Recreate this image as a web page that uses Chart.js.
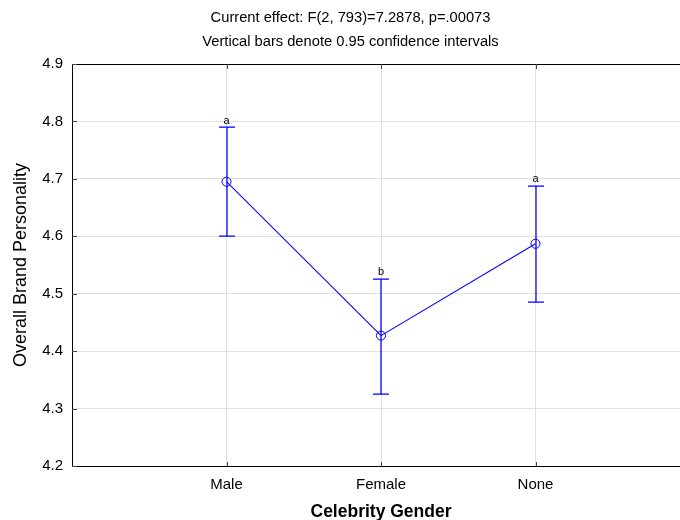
<!DOCTYPE html>
<html>
<head>
<meta charset="utf-8">
<script src="https://cdn.jsdelivr.net/npm/chart.js@4/dist/chart.umd.min.js"></script>
<style>
  html, body { margin: 0; padding: 0; background: #fff; overflow: hidden; }
  #wrap { width: 700px; height: 520px; position: relative; }
</style>
</head>
<body>
<div id="wrap"><canvas id="c"></canvas></div>
<script>
const titleLines = ['Current effect: F(2, 793)=7.2878, p=.00073', 'Vertical bars denote 0.95 confidence intervals'];
const categories = ['Male', 'Female', 'None'];
const means = [4.695, 4.427, 4.587];
const lower = [4.600, 4.326, 4.485];
const upper = [4.790, 4.526, 4.688];
const letters = ['a', 'b', 'a'];
const yTicks = [4.2, 4.3, 4.4, 4.5, 4.6, 4.7, 4.8, 4.9];
const xTitle = 'Celebrity Gender';
const yTitle = 'Overall Brand Personality';

const FONT = "'Liberation Sans', Arial, sans-serif";
Chart.defaults.font.family = FONT;
Chart.defaults.color = '#000';

const blue = '#0000ff';

const errorBars = {
  id: 'errorBars',
  afterDatasetsDraw(chart) {
    const { ctx, chartArea, scales: { x, y } } = chart;
    ctx.save();
    // top frame line
    ctx.strokeStyle = '#000';
    ctx.lineWidth = 1;
    ctx.beginPath();
    ctx.moveTo(chartArea.left, Math.round(chartArea.top) + 0.5);
    ctx.lineTo(chartArea.right, Math.round(chartArea.top) + 0.5);
    ctx.stroke();
    // inner tick marks
    ctx.strokeStyle = '#444';
    ctx.beginPath();
    yTicks.forEach(v => {
      const py = Math.round(y.getPixelForValue(v)) + 0.5;
      ctx.moveTo(chartArea.left, py);
      ctx.lineTo(chartArea.left + 5, py);
    });
    categories.forEach((c, i) => {
      const px = Math.round(x.getPixelForValue(i + 1)) + 0.5;
      ctx.moveTo(px, chartArea.top);
      ctx.lineTo(px, chartArea.top + 5);
      ctx.moveTo(px, chartArea.bottom);
      ctx.lineTo(px, chartArea.bottom - 4);
    });
    ctx.stroke();
    ctx.restore();

    // error bars
    ctx.save();
    ctx.strokeStyle = blue;
    ctx.lineWidth = 1.25;
    categories.forEach((c, i) => {
      const px = Math.round(x.getPixelForValue(i + 1));
      const yl = Math.round(y.getPixelForValue(lower[i]));
      const yh = Math.round(y.getPixelForValue(upper[i]));
      ctx.beginPath();
      ctx.moveTo(px, yl); ctx.lineTo(px, yh);
      ctx.moveTo(px - 8, yl); ctx.lineTo(px + 8, yl);
      ctx.moveTo(px - 8, yh); ctx.lineTo(px + 8, yh);
      ctx.stroke();
    });
    ctx.restore();

    ctx.save();
    ctx.fillStyle = '#000';
    ctx.font = '11px ' + FONT;
    ctx.textAlign = 'center';
    ctx.textBaseline = 'bottom';
    categories.forEach((c, i) => {
      const px = x.getPixelForValue(i + 1);
      const yh = y.getPixelForValue(upper[i]);
      ctx.fillText(letters[i], px, yh - 1);
    });
    ctx.restore();
  }
};

new Chart(document.getElementById('c'), {
  type: 'line',
  data: {
    datasets: [{
      data: categories.map((c, i) => ({ x: i + 1, y: means[i] })),
      borderColor: blue,
      borderWidth: 1.1,
      pointRadius: 4.5,
      pointBorderWidth: 1,
      pointBorderColor: blue,
      pointBackgroundColor: 'rgba(0,0,0,0)',
      tension: 0,
      fill: false
    }]
  },
  options: {
    responsive: true,
    maintainAspectRatio: false,
    animation: false,
    events: [],
    layout: { padding: { left: 9, right: 8, top: 0, bottom: 0 } },
    plugins: {
      legend: { display: false },
      tooltip: { enabled: false },
      title: {
        display: true,
        text: titleLines,
        color: '#000',
        font: { size: 14.7, weight: 'normal', lineHeight: 24 / 14.7 },
        padding: { top: 6, bottom: 10 }
      }
    },
    scales: {
      x: {
        type: 'linear',
        min: 0,
        max: 4,
        afterBuildTicks: s => { s.ticks = [0, 1, 2, 3, 4].map(v => ({ value: v })); },
        ticks: {
          autoSkip: false,
          maxRotation: 0,
          padding: 10,
          font: { size: 15 },
          color: '#000',
          callback: v => categories[v - 1] || ''
        },
        grid: { color: '#e0e0e0', drawTicks: false, lineWidth: 1 },
        border: { color: '#000', width: 1 },
        title: {
          display: true,
          text: xTitle,
          color: '#000',
          font: { size: 17.5, weight: 'bold', lineHeight: 1 },
          padding: { top: 0, bottom: -1 }
        },
        afterFit: s => { s.height = 54; }
      },
      y: {
        min: 4.2,
        max: 4.9,
        afterBuildTicks: s => { s.ticks = yTicks.map(v => ({ value: v })); },
        ticks: {
          padding: 9,
          font: { size: 15 },
          color: '#000',
          callback: v => v.toFixed(1)
        },
        grid: { color: '#e0e0e0', drawTicks: false, lineWidth: 1 },
        border: { color: '#000', width: 1 },
        title: {
          display: true,
          text: yTitle,
          color: '#000',
          font: { size: 18, weight: 'normal', lineHeight: 1 },
          padding: { top: 3, bottom: 0 }
        },
        afterFit: s => { s.width = 63; }
      }
    }
  },
  plugins: [errorBars]
});
</script>
</body>
</html>
